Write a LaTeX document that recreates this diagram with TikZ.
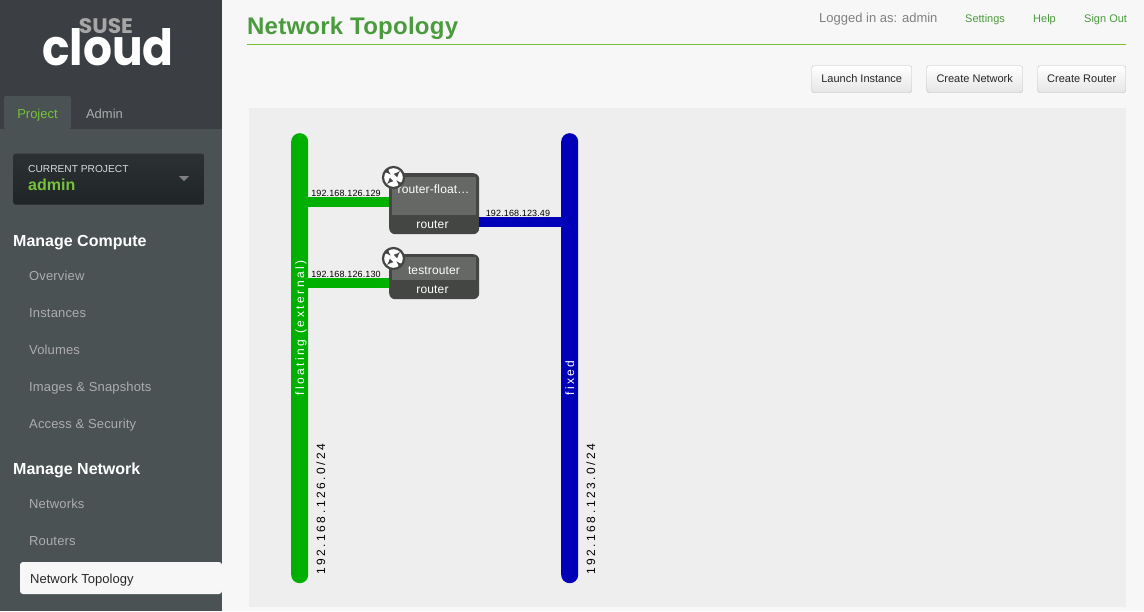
\documentclass[tikz,border=0pt]{standalone}
\usepackage{fontspec}
\setmainfont{Liberation Sans}
\newfontfamily\logofont{Poppins}
\newfontfamily\spreadfont[LetterSpace=21]{Liberation Sans}
\newfontfamily\menufont[LetterSpace=1.2]{Liberation Sans}
\newfontfamily\ipfont[LetterSpace=1.5]{Liberation Sans}
\newfontfamily\titlefont[LetterSpace=1]{Liberation Sans}
\definecolor{sidedark}{HTML}{3B3E43}
\definecolor{sidebody}{HTML}{4A5254}
\definecolor{pagebg}{HTML}{F7F7F7}
\definecolor{panelbg}{HTML}{EEEEEE}
\definecolor{sidegreen}{HTML}{76C13B}
\definecolor{titlegreen}{HTML}{4A9B3E}
\definecolor{netgreen}{HTML}{00B000}
\definecolor{netblue}{HTML}{0000B8}
\definecolor{routerdark}{HTML}{444644}
\definecolor{routerlight}{HTML}{666865}
\definecolor{currenttop}{HTML}{2C3133}
\definecolor{currentbottom}{HTML}{1F2527}
\tikzstyle{menuhead} = [anchor=base west, text=white, font=\bfseries\fontsize{16}{16}\selectfont, inner sep=0pt]
\tikzstyle{menuitem} = [anchor=base west, text=black!32, font=\menufont\fontsize{13}{13}\selectfont, inner sep=0pt]
\tikzstyle{toplink} = [anchor=base west, text=titlegreen, font=\fontsize{11}{11}\selectfont, inner sep=0pt]
\tikzstyle{actionbtn} = [rectangle, draw=black!25, rounded corners=2.5pt, top color=white, bottom color=black!10,
  text=black!85, font=\fontsize{11}{11}\selectfont, minimum height=27pt, inner sep=0pt, text height=8pt, text depth=2pt, anchor=north west]
\tikzstyle{netbar} = [rectangle, rounded corners=8.4pt, minimum width=17pt, inner sep=0pt, anchor=north west]
\tikzstyle{routerbox} = [rectangle, fill=routerdark, rounded corners=6pt, minimum width=90pt, inner sep=0pt, anchor=north west]
\tikzstyle{routertop} = [rectangle, fill=routerlight, minimum width=84pt, inner sep=0pt, anchor=north west]
\tikzstyle{routertext} = [text=white, font=\menufont\fontsize{12}{12}\selectfont, inner sep=0pt]
\tikzstyle{iplabel} = [anchor=base, text=black, font=\ipfont\fontsize{9}{9}\selectfont, inner sep=0pt]
\tikzstyle{netlabel} = [rotate=90, anchor=base west, font=\spreadfont\fontsize{12}{12}\selectfont, inner sep=0pt]
\tikzstyle{routericon} = [circle, draw=routerdark, line width=2.2pt, fill=white, minimum size=21pt, inner sep=0pt]
\tikzstyle{iconarrow} = [-latex, draw=routerdark, line width=1.2pt]
\newcommand{\iconarrows}[1]{%
  \draw[iconarrow] (#1) ++(-6.5,-6.5) -- ++(3.7,3.7);
  \draw[iconarrow] (#1) ++(6.5,6.5) -- ++(-3.7,-3.7);
  \draw[iconarrow] (#1) ++(2.8,-2.8) -- ++(3.7,-3.7);
  \draw[iconarrow] (#1) ++(-2.8,2.8) -- ++(-3.7,3.7);
}
\begin{document}
\begin{tikzpicture}[x=1pt,y=-1pt]
    \useasboundingbox (0,0) rectangle (1144,611);
    \fill[pagebg] (0,0) rectangle (1144,611);

    % sidebar
    \fill[sidebody] (0,129) rectangle (222,611);
    \fill[sidedark] (0,0) rectangle (222,129);
    \fill[sidebody, rounded corners=2pt] (4,129) -- (4,96) -- (71,96) -- (71,129) -- cycle;
    \node[anchor=base, inner sep=0pt, text=white, font=\logofont\bfseries\fontsize{50}{50}\selectfont] (cloud) at (108,65) {\scalebox{0.91}[1.0]{cloud}};
    \node[anchor=base, inner sep=0pt, text=black!35, font=\logofont\bfseries\fontsize{21}{21}\selectfont] (suse) at (106,33) {\scalebox{1.04}[1]{SUSE}};
    \node[anchor=base, inner sep=0pt, text=sidegreen, font=\fontsize{13}{13}\selectfont] (project) at (37.5,118) {Project};
    \node[anchor=base, inner sep=0pt, text=black!32, font=\fontsize{13}{13}\selectfont] (admin) at (104.5,118) {Admin};
    \node[rectangle, rounded corners=2.5pt, top color=currenttop, bottom color=currentbottom, minimum width=191pt, minimum height=51pt, inner sep=0pt, anchor=north west] (current) at (13,153.5) {};
    \node[anchor=base west, inner sep=0pt, text=black!15, font=\fontsize{10.2}{10.2}\selectfont] (currentlabel) at (28,172) {CURRENT PROJECT};
    \node[anchor=base west, inner sep=0pt, text=sidegreen, font=\bfseries\fontsize{16}{16}\selectfont] (currentname) at (28,190) {admin};
    \fill[black!50] (179,176) -- (189,176) -- (184,181) -- cycle;

    \node[menuhead] (compute) at (13,246) {Manage Compute};
    \node[menuitem] (overview) at (29,280) {Overview};
    \node[menuitem] (instances) at (29,317) {Instances};
    \node[menuitem] (volumes) at (29,354) {Volumes};
    \node[menuitem] (images) at (29,391) {Images \& Snapshots};
    \node[menuitem] (access) at (29,428) {Access \& Security};
    \node[menuhead] (network) at (13,474) {Manage Network};
    \node[menuitem] (networks) at (29,508) {Networks};
    \node[menuitem] (routers) at (29,545) {Routers};
    \fill[pagebg, rounded corners=3pt] (222,562) -- (20,562) -- (20,594) -- (222,594) -- cycle;
    \node[anchor=base west, inner sep=0pt, text=black!85, font=\fontsize{13}{13}\selectfont] (topology) at (30,583) {Network Topology};

    % header
    \node[anchor=base west, inner sep=0pt, text=titlegreen, font=\titlefont\bfseries\fontsize{24}{24}\selectfont] (title) at (247,34) {Network Topology};
    \draw[sidegreen, line width=1pt] (247,44.5) -- (1126,44.5);
    \node[anchor=base west, inner sep=0pt, text=black!50, font=\fontsize{13}{13}\selectfont] (logged) at (819,22) {Logged in as: admin};
    \node[toplink] (settings) at (965,22) {Settings};
    \node[toplink] (help) at (1033,22) {Help};
    \node[toplink] (signout) at (1084,22) {Sign Out};
    \node[actionbtn, minimum width=100pt] (launch) at (811.5,65.5) {Launch Instance};
    \node[actionbtn, minimum width=96pt] (createnet) at (926.5,65.5) {Create Network};
    \node[actionbtn, minimum width=88pt] (createrouter) at (1037.5,65.5) {Create Router};

    % topology
    \fill[panelbg] (249,108) rectangle (1126,607);
    \node[netbar, fill=netgreen, minimum height=450pt] (floating) at (291,133) {};
    \node[netbar, fill=netblue, minimum height=450pt] (fixed) at (561,133) {};
    \node[netlabel, text=white] (floatingname) at (304,396) {floating (external)};
    \node[netlabel, text=white] (fixedname) at (574,396) {fixed};
    \node[netlabel, text=black] (floatingcidr) at (325,575) {192.168.126.0/24};
    \node[netlabel, text=black] (fixedcidr) at (595,575) {192.168.123.0/24};

    \node[routerbox, minimum height=61pt] (routerfloat) at (389,173) {};
    \node[routertop, minimum height=38pt] (routerfloattop) at (392,177) {};
    \node[routertext] (routerfloattype) at (432.5,224.5) {router};
    \node[routertext, anchor=base] (routerfloatname) at (433.5,193) {router-float\ldots};
    \node[routerbox, minimum height=45pt] (testrouter) at (389,254) {};
    \node[routertop, minimum height=23pt] (testroutertop) at (392,257) {};
    \node[routertext, anchor=base] (testroutername) at (434,274) {testrouter};
    \node[routertext] (testroutertype) at (432.5,289.5) {router};

    \coordinate (floatport) at (389,202);
    \coordinate (testport) at (389,283);
    \coordinate (fixedport) at (479,222);
    \draw[netgreen, line width=10pt] (floating.east |- floatport) -- (floatport);
    \draw[netgreen, line width=10pt] (floating.east |- testport) -- (testport);
    \draw[netblue, line width=10pt] (fixedport) -- (fixed.west |- fixedport);
    \node[iplabel] (floatip) at (346,196) {192.168.126.129};
    \node[iplabel] (testip) at (346,277) {192.168.126.130};
    \node[iplabel] (fixedip) at (518,216) {192.168.123.49};

    \node[routericon] (iconfloat) at (393.5,177.5) {};
    \node[routericon] (icontest) at (393.5,258.5) {};
    \iconarrows{iconfloat}
    \iconarrows{icontest}
  \end{tikzpicture}
\end{document}
